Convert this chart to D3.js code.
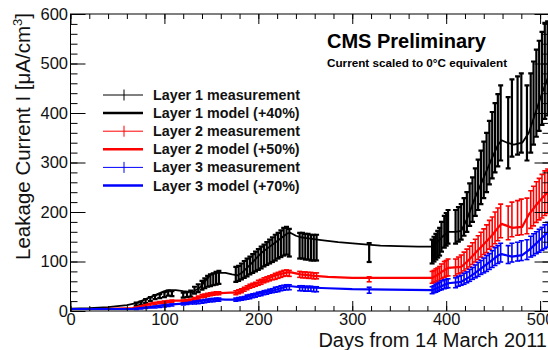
<!DOCTYPE html>
<html>
<head>
<meta charset="utf-8">
<script src="https://cdn.jsdelivr.net/npm/d3@7"></script>
<style>
  body { margin: 0; background: #fff; }
  svg { font-family: "Liberation Sans", Arial, sans-serif; }
</style>
</head>
<body>
<svg id="chart" width="548" height="350"></svg>
<script>
// ======================
// DATA
// ======================

// days of each measurement (shared by the three layers)
const measDays = [
  70, 75, 80, 85, 90, 95, 100, 104, 108,
  120, 124, 128, 132, 136, 140, 143, 146, 149, 152, 155, 158,
  176, 179, 182, 185, 188, 191, 194, 197, 200, 203, 206, 209, 212, 215, 218, 221, 224, 227, 230, 233,
  244, 247, 250, 253, 256, 259, 262,
  318,
  385, 387, 389, 391, 393, 395, 398, 400, 402,
  410, 413, 416, 419, 422, 425, 428, 431, 434, 437, 440, 443, 446, 449, 452, 455, 458,
  466, 470, 476, 480, 486,
  490, 493, 496, 499, 502, 505, 508, 511
];

const layer1Meas = [
  14, 16, 20, 24, 28, 30, 33, 36, 35,
  32, 33, 35, 42, 46, 52, 56, 60, 62, 64, 66, 68,
  74, 76, 80, 84, 88, 92, 96, 100, 104, 108, 112, 116, 120, 124, 128, 132, 136, 140, 142, 138,
  132, 132, 130, 130, 128, 128, 128,
  118,
  120, 125, 130, 135, 140, 150, 160, 165, 170,
  170, 175, 180, 190, 200, 215, 225, 240, 255, 270, 285, 300, 320, 335, 350, 365, 380,
  360, 390, 395, 400, 380,
  400, 420, 440, 455, 470, 485, 490, 500
];
const layer1Err = [
  3, 3, 4, 4, 4, 4, 5, 5, 5,
  5, 5, 6, 7, 8, 9, 10, 11, 12, 12, 13, 13,
  15, 15, 16, 17, 18, 18, 19, 20, 21, 22, 22, 23, 24, 25, 26, 26, 27, 28, 28, 28,
  26, 26, 26, 26, 26, 26, 26,
  19,
  24, 25, 26, 27, 28, 30, 32, 33, 34,
  34, 35, 36, 38, 40, 43, 45, 48, 51, 54, 57, 60, 64, 67, 70, 73, 76,
  72, 78, 79, 80, 76,
  80, 84, 88, 91, 94, 97, 95, 95
];

const layer2Meas = [
  6, 8, 10, 12, 15, 17, 18, 19, 20,
  20, 21, 22, 24, 27, 30, 31, 33, 34, 35, 36, 36,
  37, 39, 41, 44, 47, 50, 52, 54, 57, 59, 62, 64, 66, 68, 70, 72, 74, 76, 77, 76,
  74, 73, 73, 72, 72, 71, 71,
  64,
  68, 70, 72, 74, 76, 80, 84, 86, 88,
  88, 92, 95, 100, 105, 110, 116, 122, 128, 134, 140, 146, 154, 160, 168, 175, 182,
  178, 185, 188, 190, 192,
  205, 212, 220, 226, 232, 238, 242, 246
];
const layer2Err = [
  1, 1, 2, 2, 2, 2, 2, 2, 2,
  2, 2, 2, 3, 3, 3, 3, 3, 3, 3, 3, 3,
  4, 4, 4, 4, 4, 4, 4, 4, 5, 5, 5, 5, 5, 5, 6, 6, 6, 6, 6, 6,
  6, 6, 6, 6, 6, 6, 6,
  5,
  12, 12, 13, 13, 14, 15, 16, 16, 17,
  17, 17, 18, 19, 20, 21, 22, 23, 24, 25, 26, 28, 29, 30, 32, 33, 34,
  34, 35, 35, 36, 36,
  38, 40, 41, 42, 44, 45, 45, 40
];

const layer3Meas = [
  4, 5, 6, 7, 8, 9, 10, 11, 12,
  14, 15, 16, 17, 18, 19, 20, 21, 22, 22, 23, 23,
  23, 24, 25, 26, 28, 29, 31, 32, 34, 35, 37, 38, 40, 41, 43, 44, 46, 47, 48, 48,
  46, 46, 45, 45, 45, 44, 44,
  42,
  42, 44, 46, 48, 50, 52, 54, 55, 56,
  57, 60, 62, 65, 68, 72, 76, 80, 84, 88, 92, 96, 100, 105, 110, 114, 118,
  114, 118, 120, 122, 124,
  130, 134, 138, 142, 146, 150, 154, 156
];
const layer3Err = [
  1, 1, 1, 1, 2, 2, 2, 2, 2,
  2, 2, 2, 3, 3, 3, 3, 3, 3, 3, 3, 3,
  3, 3, 3, 3, 4, 4, 4, 4, 4, 4, 4, 4, 4, 4, 5, 5, 5, 5, 5, 5,
  5, 5, 5, 5, 5, 5, 5,
  6,
  7, 7, 8, 8, 8, 9, 9, 9, 9,
  10, 10, 10, 11, 11, 12, 12, 13, 14, 14, 15, 16, 16, 17, 18, 18, 19,
  18, 19, 19, 20, 20,
  21, 22, 22, 23, 23, 24, 25, 25
];

// model curves: [day, current]
const layer1Model = [
  [0,5],[20,6],[40,8],[60,12],[70,16],[80,24],[90,32],[100,40],[105,42],[112,42],[120,40],[130,38],
  [138,48],[144,62],[150,75],[157,77],[165,77],[172,74],[178,72],[183,78],[189,89],[196,103],[203,117],
  [210,127],[217,137],[224,147],[231,157],[234,158],[240,152],[245,149],[255,146],[267,143],[285,139],
  [310,135],[330,132],[349,131],[370,130],[385,130],[390,138],[396,150],[402,160],[410,160],[416,162],
  [422,185],[431,230],[440,270],[449,310],[455,335],[459,345],[465,340],[472,336],[481,340],[488,360],
  [495,400],[502,440],[509,475],[515,495]
];
const layer2Model = [
  [0,4],[30,4],[50,5],[66,6],[75,10],[87,16],[100,19],[112,21],[126,21],[135,26],[144,32],[150,35],
  [160,36],[170,37],[178,37],[184,43],[189,49],[196,54],[203,59],[210,65],[217,71],[224,75],[231,78],
  [235,78],[245,74],[260,71],[274,69],[300,67],[340,67],[385,67],[390,72],[396,80],[402,87],[416,89],
  [424,103],[431,117],[440,135],[449,153],[455,168],[459,176],[465,172],[470,168],[481,170],[488,195],
  [495,212],[502,228],[509,242],[515,250]
];
const layer3Model = [
  [0,4],[30,4],[66,4],[80,7],[90,9],[100,12],[112,14],[126,16],[135,19],[144,22],[155,24],[165,23],
  [178,23],[184,26],[189,29],[196,33],[203,36],[210,39],[217,42],[224,46],[231,50],[235,50],[245,48],
  [260,47],[274,46],[300,44],[340,43],[385,42],[390,46],[396,51],[402,56],[416,59],[424,68],[431,77],
  [440,90],[449,103],[455,112],[459,115],[465,112],[470,110],[481,113],[488,123],[495,135],[502,148],
  [509,160],[515,165]
];

const legendLabels = [
  "Layer 1 measurement", "Layer 1 model (+40%)",
  "Layer 2 measurement", "Layer 2 model (+50%)",
  "Layer 3 measurement", "Layer 3 model (+70%)"
];

const xTicks = [0, 100, 200, 300, 400, 500];
const yTicks = [0, 100, 200, 300, 400, 500, 600];

// ======================
// CHART SETUP
// ======================

const svg = d3.select("#chart");
const margin = { top: 14, right: -1.5, bottom: 39, left: 70.5 };
const width = 548;
const height = 350;

const x = d3.scaleLinear().domain([0, 510]).range([margin.left, width - margin.right]);
const y = d3.scaleLinear().domain([0, 600]).range([height - margin.bottom, margin.top]);

const layers = [
  { color: "#000", meas: layer1Meas, err: layer1Err, model: layer1Model, modelWidth: 1.8, barWidth: 2.2 },
  { color: "#f00", meas: layer2Meas, err: layer2Err, model: layer2Model, modelWidth: 2.2, barWidth: 1.6 },
  { color: "#00f", meas: layer3Meas, err: layer3Err, model: layer3Model, modelWidth: 2.2, barWidth: 1.6 }
];

svg.append("defs").append("clipPath").attr("id", "plot-clip")
  .append("rect")
  .attr("x", x(0)).attr("y", y(600))
  .attr("width", x(510) - x(0)).attr("height", y(0) - y(600));

const plotG = svg.append("g").attr("clip-path", "url(#plot-clip)");

const line = d3.line().x(d => x(d[0])).y(d => y(d[1]));
const capHalf = 2.5;

layers.forEach(layer => {
  const pts = measDays.map((d, i) => ({ day: d, v: layer.meas[i], e: layer.err[i] }));
  const g = plotG.append("g")
    .attr("stroke", layer.color)
    .attr("stroke-width", layer.barWidth)
    .attr("fill", "none");

  const bars = g.selectAll("g.bar").data(pts).join("g").attr("class", "bar");
  bars.append("line")
    .attr("x1", d => x(d.day)).attr("x2", d => x(d.day))
    .attr("y1", d => y(d.v - d.e)).attr("y2", d => y(d.v + d.e));
  bars.append("line")
    .attr("x1", d => x(d.day) - capHalf).attr("x2", d => x(d.day) + capHalf)
    .attr("y1", d => y(d.v + d.e)).attr("y2", d => y(d.v + d.e));
  bars.append("line")
    .attr("x1", d => x(d.day) - capHalf).attr("x2", d => x(d.day) + capHalf)
    .attr("y1", d => y(d.v - d.e)).attr("y2", d => y(d.v - d.e));

  plotG.append("path")
    .datum(layer.model)
    .attr("d", line)
    .attr("fill", "none")
    .attr("stroke", layer.color)
    .attr("stroke-width", layer.modelWidth)
    .attr("stroke-linejoin", "round");
});

// ======================
// AXES & FRAME
// ======================

const minorX = d3.range(0, 511, 20);
const minorY = d3.range(0, 601, 20);

function tickLayer(axis, transform) {
  const g = svg.append("g").attr("transform", transform).call(axis);
  g.select(".domain").remove();
  g.selectAll(".tick line").attr("stroke", "#000").attr("stroke-width", 1);
  return g;
}

// bottom
const bottomAxis = tickLayer(
  d3.axisBottom(x).tickValues(xTicks).tickSize(-10).tickPadding(2).tickFormat(d3.format("d")),
  `translate(0,${y(0)})`);
bottomAxis.selectAll("text").attr("font-size", 16.5).attr("fill", "#111")
  .attr("font-family", "Liberation Sans, Arial, sans-serif");
tickLayer(d3.axisBottom(x).tickValues(minorX).tickSize(-5).tickFormat(""), `translate(0,${y(0)})`);

// top
tickLayer(d3.axisTop(x).tickValues(xTicks).tickSize(-10).tickFormat(""), `translate(0,${y(600)})`);
tickLayer(d3.axisTop(x).tickValues(minorX).tickSize(-5).tickFormat(""), `translate(0,${y(600)})`);

// left
const leftAxis = tickLayer(
  d3.axisLeft(y).tickValues(yTicks).tickSize(-15).tickPadding(2.5).tickFormat(d3.format("d")),
  `translate(${x(0)},0)`);
leftAxis.selectAll("text").attr("font-size", 16.5).attr("fill", "#111")
  .attr("font-family", "Liberation Sans, Arial, sans-serif");
tickLayer(d3.axisLeft(y).tickValues(minorY).tickSize(-7).tickFormat(""), `translate(${x(0)},0)`);

// right
tickLayer(d3.axisRight(y).tickValues(yTicks).tickSize(-15).tickFormat(""), `translate(${x(510)},0)`);
tickLayer(d3.axisRight(y).tickValues(minorY).tickSize(-7).tickFormat(""), `translate(${x(510)},0)`);

svg.append("rect")
  .attr("x", x(0)).attr("y", y(600))
  .attr("width", x(510) - x(0)).attr("height", y(0) - y(600))
  .attr("fill", "none").attr("stroke", "#000").attr("stroke-width", 1);

// axis titles
svg.append("text")
  .attr("x", 547).attr("y", 347)
  .attr("text-anchor", "end")
  .attr("font-size", 20)
  .attr("fill", "#111")
  .text("Days from 14 March 2011");

const yTitle = svg.append("text")
  .attr("transform", "translate(30,13) rotate(-90)")
  .attr("text-anchor", "end")
  .attr("font-size", 20.5)
  .attr("fill", "#111");
yTitle.append("tspan").text("Leakage Current I [\u03bcA/cm");
yTitle.append("tspan").attr("font-size", 13).attr("dy", -8).text("3");
yTitle.append("tspan").attr("dy", 8).text("]");

// ======================
// LABELS & LEGEND
// ======================

svg.append("text")
  .attr("x", 327).attr("y", 48)
  .attr("font-size", 20).attr("font-weight", "bold")
  .text("CMS Preliminary");

svg.append("text")
  .attr("x", 327).attr("y", 67)
  .attr("font-size", 11.7).attr("font-weight", "bold")
  .text("Current scaled to 0\u00b0C equivalent");

const legendG = svg.append("g");
const legendColors = ["#000", "#000", "#f00", "#f00", "#00f", "#00f"];
legendLabels.forEach((label, i) => {
  const cy = 95 + i * 18.1;
  const isModel = i % 2 === 1;
  legendG.append("line")
    .attr("x1", 103).attr("x2", 143).attr("y1", cy).attr("y2", cy)
    .attr("stroke", legendColors[i]).attr("stroke-width", isModel ? 2.5 : 1);
  if (!isModel) {
    legendG.append("line")
      .attr("x1", 124).attr("x2", 124).attr("y1", cy - 5.5).attr("y2", cy + 5.5)
      .attr("stroke", legendColors[i]).attr("stroke-width", 1);
  }
  legendG.append("text")
    .attr("x", 153).attr("y", cy + 5)
    .attr("font-size", 14.3).attr("font-weight", "bold")
    .attr("fill", "#111")
    .text(label);
});
</script>
</body>
</html>
